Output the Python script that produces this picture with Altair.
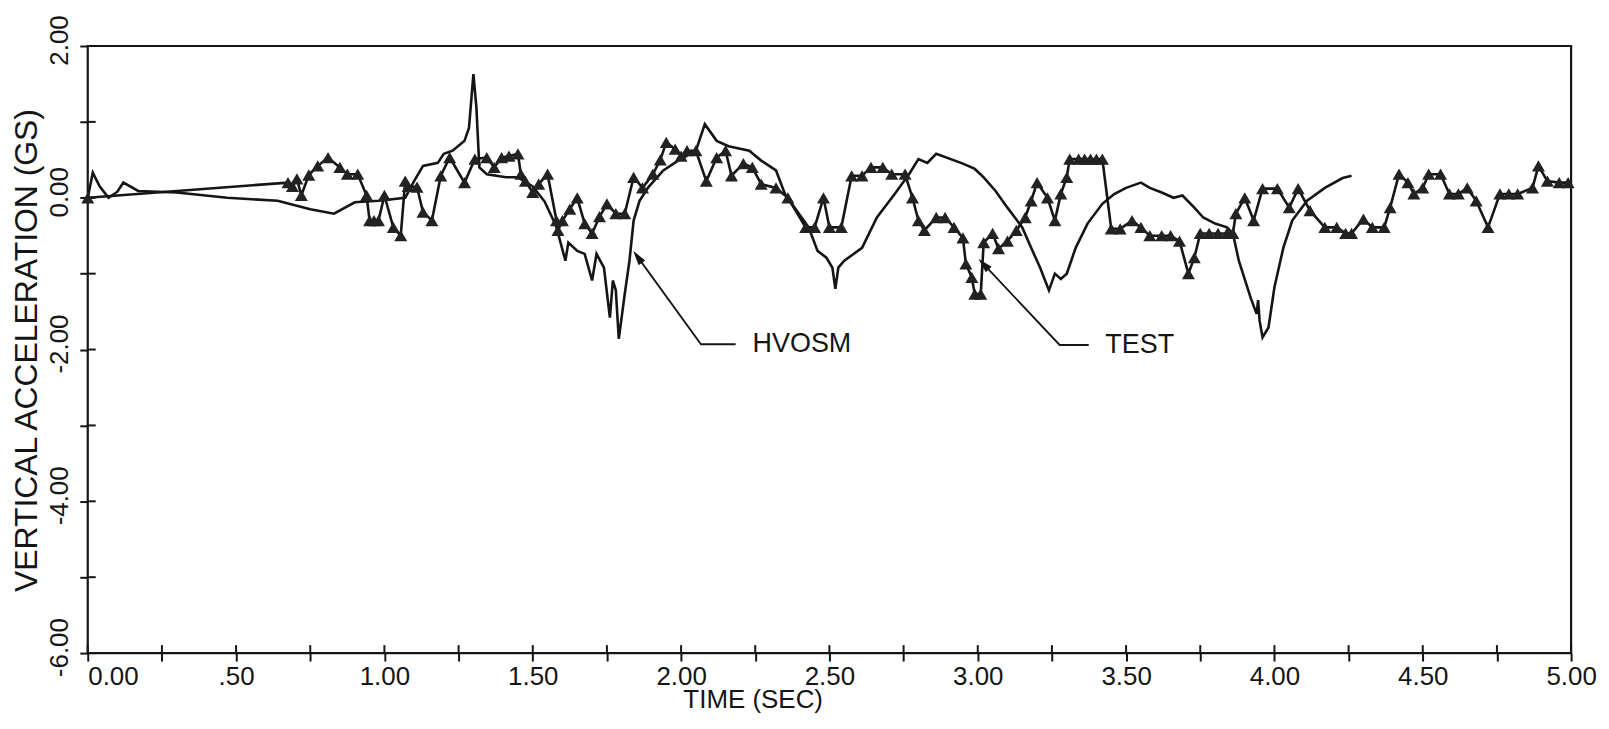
import altair as alt
import pandas as pd

# ---- HVOSM (simulation) series ----
hv_t = [0.0, 0.017, 0.04, 0.07, 0.10, 0.12, 0.17, 0.30, 0.47, 0.64, 0.75, 0.83, 0.90, 0.98,
        1.07, 1.10, 1.13, 1.18, 1.20, 1.23, 1.27, 1.285, 1.30, 1.31, 1.32, 1.345, 1.41, 1.45,
        1.50, 1.54, 1.57, 1.58, 1.61, 1.62, 1.65, 1.675, 1.70, 1.715, 1.74, 1.76, 1.77, 1.78,
        1.79, 1.81, 1.826, 1.84, 1.86, 1.89, 1.94, 1.99, 2.05, 2.08, 2.12, 2.16, 2.23, 2.27,
        2.32, 2.35, 2.39, 2.43, 2.46, 2.49, 2.51, 2.52, 2.53, 2.55, 2.61, 2.66, 2.72, 2.77,
        2.80, 2.83, 2.86, 2.95, 2.99, 3.02, 3.06, 3.10, 3.15, 3.18, 3.21, 3.24, 3.26, 3.28,
        3.30, 3.33, 3.37, 3.42, 3.46, 3.50, 3.55, 3.58, 3.62, 3.66, 3.69, 3.73, 3.76, 3.80,
        3.84, 3.86, 3.88, 3.92, 3.94, 3.945, 3.95, 3.96, 3.98, 4.00, 4.03, 4.06, 4.11, 4.17,
        4.23, 4.26]
hv_v = [0.0, 0.33, 0.15, 0.0, 0.08, 0.20, 0.09, 0.07, 0.0, -0.04, -0.15, -0.21, -0.06, -0.04,
        0.0, 0.22, 0.42, 0.46, 0.58, 0.62, 0.75, 0.92, 1.63, 1.19, 0.40, 0.31, 0.27, 0.27,
        0.15, -0.05, -0.30, -0.39, -0.83, -0.59, -0.70, -0.74, -1.09, -0.74, -0.92, -1.58, -1.09, -1.22,
        -1.86, -1.27, -0.83, -0.30, -0.04, 0.14, 0.36, 0.49, 0.62, 0.97, 0.75, 0.68, 0.62, 0.49,
        0.36, 0.05, -0.17, -0.39, -0.70, -0.79, -0.92, -1.20, -0.92, -0.83, -0.66, -0.26, 0.05, 0.32,
        0.51, 0.46, 0.58, 0.45, 0.38, 0.27, 0.09, -0.13, -0.39, -0.66, -0.92, -1.22, -1.00, -1.07,
        -1.00, -0.66, -0.34, -0.08, 0.05, 0.13, 0.20, 0.13, 0.07, 0.0, 0.03, -0.13, -0.26, -0.34,
        -0.39, -0.47, -0.83, -1.32, -1.53, -1.35, -1.62, -1.84, -1.71, -1.18, -0.66, -0.30, -0.04, 0.13,
        0.26, 0.29]

# ---- TEST series ----
test_t = [0.0, 0.675, 0.69, 0.705, 0.72, 0.745, 0.775, 0.81, 0.85, 0.875, 0.91, 0.94, 0.95,
          0.965, 0.98, 1.0, 1.03, 1.055, 1.07, 1.08, 1.11, 1.13, 1.16, 1.19, 1.22, 1.27, 1.305,
          1.345, 1.37, 1.395, 1.42, 1.45, 1.46, 1.475, 1.50, 1.52, 1.55, 1.58, 1.585, 1.60, 1.625,
          1.65, 1.675, 1.70, 1.725, 1.75, 1.78, 1.81, 1.84, 1.87, 1.905, 1.93, 1.95, 1.98, 2.0,
          2.02, 2.05, 2.085, 2.12, 2.15, 2.17, 2.21, 2.24, 2.27, 2.32, 2.36, 2.42, 2.45, 2.48,
          2.50, 2.54, 2.575, 2.61, 2.64, 2.68, 2.71, 2.755, 2.78, 2.80, 2.82, 2.86, 2.89, 2.92,
          2.95, 2.96, 2.98, 2.99, 3.01, 3.02, 3.05, 3.07, 3.10, 3.13, 3.16, 3.18, 3.20, 3.235,
          3.26, 3.28, 3.30, 3.31, 3.34, 3.36, 3.38, 3.40, 3.42, 3.45, 3.48, 3.52, 3.55, 3.58,
          3.62, 3.65, 3.68, 3.71, 3.73, 3.75, 3.78, 3.81, 3.84, 3.86, 3.87, 3.90, 3.93, 3.96,
          4.01, 4.05, 4.08, 4.12, 4.17, 4.21, 4.24, 4.26, 4.30, 4.33, 4.37, 4.39, 4.42, 4.45,
          4.47, 4.50, 4.52, 4.56, 4.59, 4.62, 4.65, 4.68, 4.72, 4.76, 4.79, 4.82, 4.87, 4.89,
          4.92, 4.96, 4.99]
test_v = [0.0, 0.20, 0.15, 0.25, 0.03, 0.30, 0.42, 0.53, 0.40, 0.31, 0.31, 0.03, -0.30,
          -0.30, -0.30, 0.03, -0.39, -0.50, 0.22, 0.15, 0.14, -0.19, -0.30, 0.29, 0.53, 0.20, 0.51,
          0.53, 0.40, 0.53, 0.55, 0.58, 0.31, 0.22, 0.07, 0.18, 0.31, -0.30, -0.43, -0.30, -0.15,
          0.0, -0.34, -0.47, -0.25, -0.08, -0.21, -0.21, 0.27, 0.13, 0.31, 0.50, 0.73, 0.64, 0.55,
          0.62, 0.62, 0.22, 0.53, 0.62, 0.29, 0.45, 0.40, 0.18, 0.13, 0.0, -0.39, -0.39, 0.0,
          -0.39, -0.39, 0.29, 0.29, 0.40, 0.40, 0.31, 0.31, 0.0, -0.30, -0.43, -0.26, -0.26, -0.39,
          -0.53, -0.87, -1.05, -1.27, -1.27, -0.59, -0.47, -0.67, -0.57, -0.43, -0.26, -0.04, 0.20, 0.0,
          -0.30, 0.05, 0.27, 0.51, 0.51, 0.51, 0.51, 0.51, 0.51, -0.41, -0.41, -0.30, -0.39, -0.50,
          -0.50, -0.50, -0.57, -1.00, -0.79, -0.47, -0.47, -0.47, -0.47, -0.47, -0.21, 0.0, -0.30, 0.12,
          0.12, -0.13, 0.12, -0.17, -0.39, -0.39, -0.47, -0.47, -0.28, -0.39, -0.39, -0.13, 0.31, 0.20,
          0.05, 0.13, 0.31, 0.31, 0.05, 0.05, 0.13, -0.04, -0.39, 0.05, 0.05, 0.05, 0.13, 0.42,
          0.22, 0.20, 0.20]

# ---- axis ticks ----
x_ticks = [0.0, 0.25, 0.5, 0.75, 1.0, 1.25, 1.5, 1.75, 2.0, 2.25, 2.5, 2.75, 3.0, 3.25,
           3.5, 3.75, 4.0, 4.25, 4.5, 4.75, 5.0]
y_ticks = [2, 1, 0, -1, -2, -3, -4, -5, -6]

# ---- annotation leaders (label, point order, t, v) ----
lead_grp = ["HVOSM", "HVOSM", "HVOSM", "TEST", "TEST", "TEST"]
lead_ord = [0, 1, 2, 0, 1, 2]
lead_t = [1.862, 2.067, 2.184, 3.03, 3.276, 3.374]
lead_v = [-0.825, -1.93, -1.93, -0.917, -1.94, -1.94]
head_t = [1.862, 3.03]
head_v = [-0.825, -0.917]
head_ang = [324, 316]
lab_text = ["HVOSM", "TEST"]
lab_t = [2.241, 3.43]
lab_v = [-1.93, -1.94]

FONT = "Liberation Sans"
INK = "#151515"
W, H = 1488, 609
TICK = 8

df_hv = pd.DataFrame({"t": hv_t, "v": hv_v})
df_test = pd.DataFrame({"t": test_t, "v": test_v})
df_lead = pd.DataFrame({"g": lead_grp, "o": lead_ord, "t": lead_t, "v": lead_v})
df_head = pd.DataFrame({"t": head_t, "v": head_v, "a": head_ang})
df_lab = pd.DataFrame({"txt": lab_text, "t": lab_t, "v": lab_v})
df_xt = pd.DataFrame({"t": x_ticks})
df_yt = pd.DataFrame({"v": y_ticks})

xs = alt.Scale(domain=[0, 5], nice=False, zero=False)
ys = alt.Scale(domain=[-6, 2], nice=False, zero=False)

x_axis = alt.Axis(
    values=x_ticks, grid=False, domain=False, tickSize=TICK, tickWidth=2,
    tickColor=INK, labelFont=FONT, labelFontSize=26, labelColor=INK, labelPadding=3,
    labelBaseline="top",
    labelAlign={"condition": {"test": "datum.value == 0", "value": "left"}, "value": "center"},
    labelExpr="datum.value == 0.5 ? '.50' : ((datum.value * 2) % 1 == 0 ? format(datum.value, '.2f') : '')",
    labelOverlap=False, labelFlush=False,
    title="TIME (SEC)", titleFont=FONT, titleFontSize=26, titleFontWeight="normal",
    titleColor=INK, titleX=667, titleY=55, titleAlign="center", titleBaseline="alphabetic",
)
y_axis = alt.Axis(
    values=y_ticks, grid=False, domain=False, tickSize=TICK, tickWidth=2,
    tickColor=INK, labelFont=FONT, labelFontSize=26, labelColor=INK, labelPadding=12,
    labelAngle=270, labelAlign="center", labelBaseline="alphabetic", labelOffset=-6,
    labelExpr="datum.value % 2 == 0 ? (datum.value < 0 ? '-' : '') + format(abs(datum.value), '.2f') : ''",
    labelOverlap=False, labelFlush=False,
    title="VERTICAL ACCELERATION (GS)", titleFont=FONT, titleFontSize=32,
    titleFontWeight="normal", titleColor=INK, titleAngle=270, titleX=-51, titleY=305,
    titleAlign="center", titleBaseline="alphabetic",
)

hv_line = alt.Chart(df_hv).mark_line(color=INK, strokeWidth=2.6).encode(
    x=alt.X("t:Q", scale=xs, axis=x_axis), y=alt.Y("v:Q", scale=ys, axis=y_axis), order="t:Q")

# inner halves of the crossing tick marks
x_inner = alt.Chart(df_xt).mark_rule(color=INK, strokeWidth=2).encode(
    x="t:Q", y=alt.value(H), y2=alt.value(H - TICK))
y_inner = alt.Chart(df_yt).mark_rule(color=INK, strokeWidth=2).encode(
    y="v:Q", x=alt.value(0), x2=alt.value(TICK))

test_line = alt.Chart(df_test).mark_line(color=INK, strokeWidth=2.6).encode(
    x="t:Q", y="v:Q", order="t:Q")
test_pts = alt.Chart(df_test).mark_point(
    shape="triangle-up", filled=True, size=170, color="#222222", opacity=1).encode(
    x="t:Q", y="v:Q")

leads = alt.Chart(df_lead).mark_line(color=INK, strokeWidth=1.8).encode(
    x="t:Q", y="v:Q", detail="g:N", order="o:Q")
heads = alt.Chart(df_head).mark_point(
    shape="M0,-1.6L0.55,0.4L-0.55,0.4Z", filled=True, size=220, color=INK, opacity=1).encode(
    x="t:Q", y="v:Q", angle=alt.Angle("a:Q", scale=None))
labels = alt.Chart(df_lab).mark_text(
    font=FONT, fontSize=27, color=INK, align="left", baseline="middle").encode(
    x="t:Q", y="v:Q", text="txt:N")

chart = alt.layer(hv_line, x_inner, y_inner, test_line, test_pts, leads, heads, labels).properties(
    width=W, height=H,
    autosize=alt.AutoSizeParams(type="none"),
    padding={"left": 80, "top": 37, "right": 30, "bottom": 64},
    background="white",
).configure_view(stroke=INK, strokeWidth=2.2)

chart.save("out.html", embed_options={"renderer": "svg", "actions": False})
